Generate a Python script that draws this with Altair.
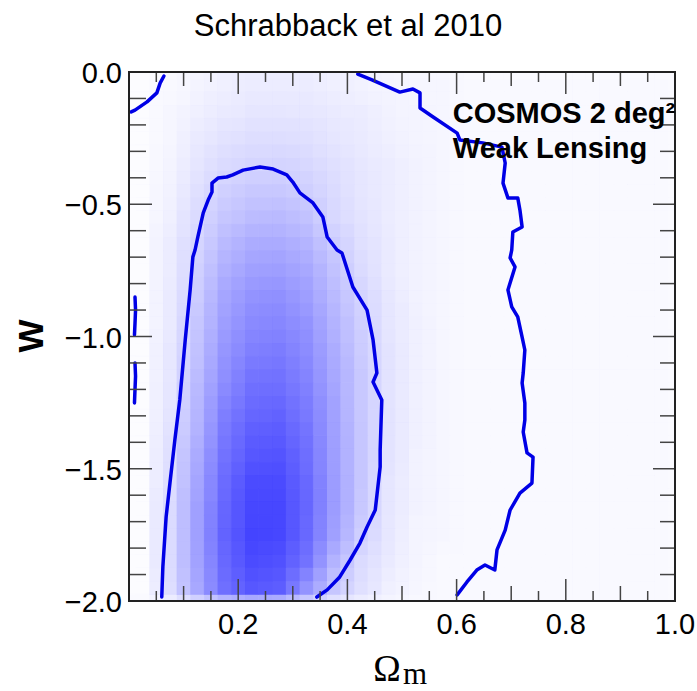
import altair as alt
import pandas as pd

# ---------------- data ----------------
title_text = ["Schrabback et al 2010"]
annot_lines = ["COSMOS 2 deg\u00b2", "Weak Lensing"]
y_title = ["W"]
x_title_main = ["\u03a9"]
x_title_sub = ["m"]

x_tick_labels = [0.2, 0.4, 0.6, 0.8, 1.0]
y_tick_labels = [0.0, -0.5, -1.0, -1.5, -2.0]

x_ticks_major = [0.2, 0.4, 0.6, 0.8]
x_ticks_mid = [0.1, 0.3, 0.5, 0.7, 0.9]
x_ticks_minor = [0.05, 0.15, 0.25, 0.35, 0.45, 0.55, 0.65, 0.75, 0.85, 0.95]
y_ticks_major = [-0.5, -1.0, -1.5]
y_ticks_minor = [-0.1, -0.2, -0.3, -0.4, -0.6, -0.7, -0.8, -0.9,
                 -1.1, -1.2, -1.3, -1.4, -1.6, -1.7, -1.8, -1.9]

# density image: cell centres and intensity (0-100)
grid_x = [0.025, 0.075, 0.125, 0.175, 0.225, 0.275, 0.325, 0.375, 0.425, 0.475,
          0.525, 0.575, 0.625, 0.675, 0.725, 0.775, 0.825, 0.875, 0.925, 0.975]
grid_y = [-0.05, -0.15, -0.25, -0.35, -0.45, -0.55, -0.65, -0.75, -0.85, -0.95,
          -1.05, -1.15, -1.25, -1.35, -1.45, -1.55, -1.65, -1.75, -1.85, -1.95]
density = [
    [1, 2, 4, 6, 7, 7, 7, 6, 5, 4, 3, 3, 2, 2, 2, 2, 2, 2, 2, 2],
    [1, 3, 6, 8, 10, 10, 9, 8, 7, 5, 4, 3, 2, 2, 2, 2, 2, 2, 2, 2],
    [1, 3, 8, 11, 13, 13, 12, 10, 8, 6, 4, 3, 2, 2, 2, 2, 2, 2, 2, 2],
    [1, 4, 10, 14, 16, 17, 15, 12, 9, 7, 5, 3, 2, 2, 2, 2, 2, 2, 2, 2],
    [1, 5, 12, 18, 21, 21, 19, 14, 10, 7, 5, 3, 2, 2, 2, 2, 2, 2, 2, 2],
    [1, 6, 14, 22, 26, 27, 24, 15, 11, 7, 5, 3, 2, 2, 2, 2, 2, 2, 2, 2],
    [1, 7, 16, 27, 32, 33, 29, 20, 12, 8, 5, 3, 2, 2, 2, 2, 2, 2, 2, 2],
    [1, 7, 18, 31, 37, 38, 34, 24, 14, 8, 5, 3, 2, 2, 2, 2, 2, 2, 2, 2],
    [1, 8, 20, 35, 42, 43, 38, 27, 17, 9, 5, 3, 2, 2, 2, 2, 2, 2, 2, 2],
    [1, 8, 22, 38, 46, 47, 42, 30, 19, 10, 6, 3, 2, 2, 2, 2, 2, 2, 2, 2],
    [1, 9, 24, 41, 50, 51, 45, 32, 20, 11, 6, 3, 2, 2, 2, 2, 2, 2, 2, 2],
    [1, 9, 26, 44, 54, 55, 48, 34, 21, 11, 6, 3, 2, 2, 2, 2, 2, 2, 2, 2],
    [1, 10, 28, 48, 58, 59, 51, 36, 21, 11, 6, 3, 2, 2, 2, 2, 2, 2, 2, 2],
    [1, 11, 30, 52, 62, 63, 54, 37, 22, 11, 6, 3, 2, 2, 2, 2, 2, 2, 2, 2],
    [1, 12, 33, 55, 66, 67, 57, 38, 22, 11, 5, 3, 2, 2, 2, 2, 2, 2, 2, 2],
    [1, 13, 35, 58, 70, 70, 59, 39, 22, 10, 5, 3, 2, 2, 2, 2, 2, 2, 2, 2],
    [1, 14, 37, 60, 72, 72, 60, 39, 21, 10, 5, 3, 2, 2, 2, 2, 2, 2, 2, 2],
    [1, 14, 37, 61, 73, 72, 59, 37, 19, 9, 4, 3, 2, 2, 2, 2, 2, 2, 2, 2],
    [1, 14, 36, 59, 70, 68, 55, 30, 14, 8, 4, 2, 2, 2, 2, 2, 2, 2, 2, 2],
    [1, 13, 34, 56, 66, 63, 42, 22, 12, 6, 3, 2, 2, 2, 2, 2, 2, 2, 2, 2],
]

# contour lines (Omega_m, w)
inner_x = [0.060, 0.062, 0.068, 0.075, 0.084, 0.093, 0.103, 0.112, 0.117, 0.121,
           0.126, 0.136, 0.145, 0.152, 0.152, 0.163, 0.179, 0.190, 0.209, 0.240,
           0.264, 0.289, 0.300, 0.313, 0.337, 0.355, 0.363, 0.381, 0.390, 0.410,
           0.436, 0.447, 0.454, 0.447, 0.463, 0.460, 0.460, 0.451, 0.436, 0.423,
           0.405, 0.386, 0.363, 0.344]
inner_y = [-1.985, -1.871, -1.682, -1.554, -1.391, -1.240, -1.013, -0.824, -0.699, -0.673,
           -0.624, -0.533, -0.484, -0.454, -0.420, -0.401, -0.397, -0.389, -0.371, -0.359,
           -0.367, -0.389, -0.416, -0.457, -0.495, -0.548, -0.624, -0.673, -0.684, -0.813,
           -0.900, -1.013, -1.138, -1.172, -1.240, -1.429, -1.493, -1.656, -1.720, -1.781,
           -1.845, -1.909, -1.958, -1.985]
outer_x = [0.419, 0.445, 0.496, 0.520, 0.533, 0.533, 0.557, 0.601, 0.606, 0.648,
           0.683, 0.689, 0.685, 0.694, 0.712, 0.716, 0.720, 0.703, 0.701, 0.698,
           0.707, 0.694, 0.701, 0.712, 0.720, 0.725, 0.722, 0.720, 0.725, 0.725,
           0.722, 0.729, 0.740, 0.738, 0.716, 0.698, 0.689, 0.674, 0.670, 0.652,
           0.637, 0.619, 0.601]
outer_y = [-0.008, -0.030, -0.076, -0.064, -0.079, -0.136, -0.170, -0.231, -0.257, -0.268,
           -0.284, -0.344, -0.420, -0.476, -0.476, -0.522, -0.586, -0.605, -0.673, -0.703,
           -0.737, -0.824, -0.888, -0.926, -1.002, -1.051, -1.138, -1.176, -1.251, -1.316,
           -1.361, -1.440, -1.456, -1.554, -1.592, -1.656, -1.732, -1.807, -1.883, -1.864,
           -1.883, -1.928, -1.977]
corner_x = [0.004, 0.011, 0.033, 0.051, 0.057, 0.064]
corner_y = [-0.151, -0.144, -0.113, -0.079, -0.042, -0.015]
frag1_x = [0.011, 0.012, 0.011, 0.010]
frag1_y = [-0.851, -0.900, -0.950, -0.994]
frag2_x = [0.011, 0.012, 0.011, 0.010]
frag2_y = [-1.100, -1.150, -1.200, -1.251]

# ---------------- tables ----------------
HX, HY = 0.025, 0.05  # half cell size
QX, QY = HX / 2, HY / 2  # quarter cell shift


def heat_table(sx, sy):
    rows = []
    for yi, yc in enumerate(grid_y):
        for xi, xc in enumerate(grid_x):
            rows.append({"x0": xc - HX + sx, "x1": xc + HX + sx,
                         "y0": yc + HY + sy, "y1": yc - HY + sy,
                         "d": density[yi][xi]})
    return pd.DataFrame(rows)


lines = []
for name, xs_, ys_ in [("inner", inner_x, inner_y), ("outer", outer_x, outer_y),
                       ("corner", corner_x, corner_y), ("frag1", frag1_x, frag1_y),
                       ("frag2", frag2_x, frag2_y)]:
    for i, (a, b) in enumerate(zip(xs_, ys_)):
        lines.append({"seg": name, "i": i, "om": a, "w": b})
line_df = pd.DataFrame(lines)

# ---------------- chart ----------------
W, H = 546, 529
FONT = "Liberation Sans"
xs = alt.Scale(domain=[0, 1], nice=False, zero=False)
ys = alt.Scale(domain=[-2, 0], nice=False, zero=False)
cs = alt.Scale(domain=[0, 100], range=["#ffffff", "#0000ff"], interpolate="rgb")


def heat_layer(sx, sy, opacity, stroke):
    enc = dict(
        x=alt.X("x0:Q", scale=xs, axis=None),
        x2="x1:Q",
        y=alt.Y("y0:Q", scale=ys, axis=None),
        y2="y1:Q",
        fill=alt.Fill("d:Q", scale=cs, legend=None),
    )
    if stroke:
        enc["stroke"] = alt.Stroke("d:Q", scale=cs, legend=None)
        mk = alt.Chart(heat_table(sx, sy)).mark_rect(strokeWidth=0.6, clip=True)
    else:
        mk = alt.Chart(heat_table(sx, sy)).mark_rect(strokeWidth=0, opacity=opacity, clip=True)
    return mk.encode(**enc)


# white backdrop so shifted copies blend on white at the edges
backdrop = alt.Chart(pd.DataFrame({"a": [0]})).mark_rect(color="#fafaff").encode(
    x=alt.value(0), x2=alt.value(W), y=alt.value(0), y2=alt.value(H))

# four quarter-cell shifted copies averaged by opacity -> smoother image, centred
heat_layers = [
    heat_layer(-QX, QY, 1, True),
    heat_layer(QX, QY, 1 / 2, False),
    heat_layer(-QX, -QY, 1 / 3, False),
    heat_layer(QX, -QY, 1 / 4, False),
]

contours = alt.Chart(line_df).mark_line(
    color="#0000e6", strokeWidth=3.5, strokeJoin="round", strokeCap="round"
).encode(
    x=alt.X("om:Q", scale=xs, axis=None),
    y=alt.Y("w:Q", scale=ys, axis=None),
    detail="seg:N",
    order="i:Q",
)

TICK_COLOR = "#444444"


def xticks(vals, length, side):
    df = pd.DataFrame({"v": vals})
    if side == "bottom":
        yy, yy2 = alt.value(H), alt.value(H - length)
    else:
        yy, yy2 = alt.value(0), alt.value(length)
    return alt.Chart(df).mark_rule(color=TICK_COLOR, strokeWidth=1.5).encode(
        x=alt.X("v:Q", scale=xs, axis=None), y=yy, y2=yy2)


def yticks(vals, length, side):
    df = pd.DataFrame({"v": vals})
    if side == "left":
        xx, xx2 = alt.value(0), alt.value(length)
    else:
        xx, xx2 = alt.value(W), alt.value(W - length)
    return alt.Chart(df).mark_rule(color=TICK_COLOR, strokeWidth=1.5).encode(
        y=alt.Y("v:Q", scale=ys, axis=None), x=xx, x2=xx2)


tick_layers = [
    xticks(x_ticks_major, 22, "bottom"), xticks(x_ticks_mid, 15, "bottom"),
    xticks(x_ticks_minor, 10, "bottom"),
    xticks(x_ticks_major, 22, "top"), xticks(x_ticks_mid, 14, "top"),
    xticks(x_ticks_minor, 10, "top"),
    yticks(y_ticks_major, 23, "left"), yticks(y_ticks_minor, 17, "left"),
    yticks(y_ticks_major, 22, "right"), yticks(y_ticks_minor, 15, "right"),
]

x_labels = alt.Chart(pd.DataFrame({"v": x_tick_labels})).mark_text(
    font=FONT, fontSize=29, color="#000000", align="center", baseline="alphabetic"
).encode(x=alt.X("v:Q", scale=xs, axis=None), y=alt.value(H + 33),
         text=alt.Text("v:Q", format=".1f"))

y_labels = alt.Chart(pd.DataFrame({"v": y_tick_labels})).mark_text(
    font=FONT, fontSize=29, color="#000000", align="right", baseline="middle", dy=2
).encode(y=alt.Y("v:Q", scale=ys, axis=None), x=alt.value(-7),
         text=alt.Text("v:Q", format=".1f"))

frame = alt.Chart(pd.DataFrame({"a": [0]})).mark_rect(
    filled=False, stroke="#222222", strokeWidth=2
).encode(x=alt.value(0), x2=alt.value(W), y=alt.value(0), y2=alt.value(H))

title = alt.Chart(pd.DataFrame({"t": title_text})).mark_text(
    font=FONT, fontSize=31, color="#000000", align="center", baseline="alphabetic"
).encode(x=alt.value(219), y=alt.value(-36), text="t:N")

annot1 = alt.Chart(pd.DataFrame({"t": annot_lines[:1]})).mark_text(
    font=FONT, fontSize=29, fontWeight="bold", color="#000000", align="left",
    baseline="alphabetic"
).encode(x=alt.datum(0.593), y=alt.datum(-0.193), text="t:N")

annot2 = alt.Chart(pd.DataFrame({"t": annot_lines[1:]})).mark_text(
    font=FONT, fontSize=29, fontWeight="bold", color="#000000", align="left",
    baseline="alphabetic"
).encode(x=alt.datum(0.593), y=alt.datum(-0.325), text="t:N")

ytitle = alt.Chart(pd.DataFrame({"t": y_title})).mark_text(
    font=FONT, fontSize=35, fontWeight="bold", color="#000000", align="center",
    baseline="alphabetic", angle=270
).encode(x=alt.value(-86), y=alt.value(264), text="t:N")

xtitle1 = alt.Chart(pd.DataFrame({"t": x_title_main})).mark_text(
    font="Liberation Serif", fontSize=37, color="#000000", align="center",
    baseline="alphabetic"
).encode(x=alt.value(258), y=alt.value(609), text="t:N")

xtitle2 = alt.Chart(pd.DataFrame({"t": x_title_sub})).mark_text(
    font="Liberation Serif", fontSize=31, color="#000000", align="left",
    baseline="alphabetic"
).encode(x=alt.value(274), y=alt.value(612), text="t:N")

chart = alt.layer(
    backdrop, *heat_layers, contours, *tick_layers, frame, x_labels, y_labels,
    title, annot1, annot2, ytitle, xtitle1, xtitle2
).properties(
    width=W, height=H,
    autosize=alt.AutoSizeParams(type="none"),
    padding={"left": 129, "top": 72, "right": 22, "bottom": 90},
    background="#ffffff",
).configure_view(strokeWidth=0)

chart.save("out.html", embed_options={"renderer": "svg", "actions": False})
